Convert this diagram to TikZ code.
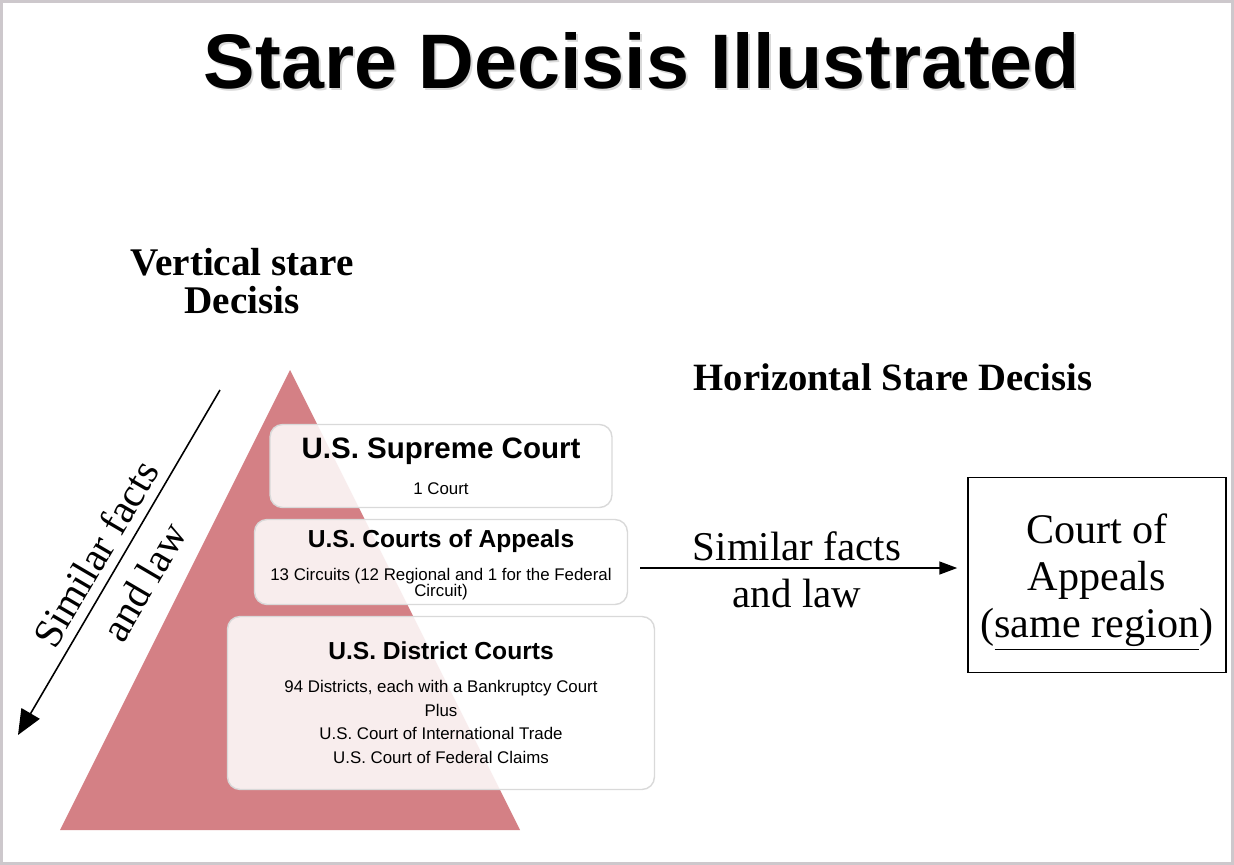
\documentclass[tikz,border=0pt]{standalone}
\usepackage{fontspec}
\setmainfont{Liberation Serif}
\setsansfont{Liberation Sans}
\usepackage{tikz}
\usetikzlibrary{positioning,arrows.meta,calc}
\definecolor{pyramidred}{RGB}{212,128,133}
\definecolor{framegray}{RGB}{205,200,204}

\begin{document}
\begin{tikzpicture}[x=0.02cm, y=-0.02cm,
  courtbox/.style={draw=gray!30, line width=0.8pt, rounded corners=0.25cm, fill=white, fill opacity=0.86},
  courttitle/.style={font=\sffamily\bfseries\fontsize{14}{16}\selectfont},
  courtnote/.style={font=\sffamily\fontsize{9.6}{13.6}\selectfont, align=center},
  factlabel/.style={font=\fontsize{23.3}{27}\selectfont, align=center},
  factarrow/.style={-{Triangle[length=0.36cm, width=0.26cm]}, line width=0.9pt}
]

% Slide frame
\fill[framegray] (0,0) rectangle (1234,865);
\fill[white] (3,3) rectangle (1231,862);
\useasboundingbox (0,0) rectangle (1234,865);

% Title
\node[font=\sffamily\bfseries\fontsize{44}{50}\selectfont, text=black!15] (titleS) at (644,63) {Stare Decisis Illustrated};
\node[font=\sffamily\bfseries\fontsize{44}{50}\selectfont] (title) at (642,61) {Stare Decisis Illustrated};

% Headings
\node[font=\bfseries\fontsize{22.3}{21.5}\selectfont, align=center] (vhead) at (242,281) {Vertical stare\\Decisis};
\node[font=\bfseries\fontsize{22}{26}\selectfont] (hhead) at (893,377) {Horizontal Stare Decisis};

% Pyramid
\coordinate (apex) at (290,370);
\coordinate (baseR) at (520,830);
\coordinate (baseL) at (60,830);
\fill[pyramidred] (apex) -- (baseR) -- (baseL) -- cycle;

% Court boxes
\node[courtbox, minimum width=6.84cm, minimum height=1.66cm] (supreme) at (441,466) {};
\node[courtbox, minimum width=7.46cm, minimum height=1.70cm] (appeals) at (441,562) {};
\node[courtbox, minimum width=8.54cm, minimum height=3.46cm] (district) at (441,703) {};

\node[courttitle, font=\sffamily\bfseries\fontsize{16.8}{19}\selectfont] (supremeT) at (441,451) {U.S. Supreme Court};
\node[courtnote] (supremeN) at (441,489) {1 Court};
\node[courttitle] (appealsT) at (441,541) {U.S. Courts of Appeals};
\node[courtnote, font=\sffamily\fontsize{9.6}{9.4}\selectfont] (appealsN) at (441,584) {13 Circuits (12 Regional and 1 for the Federal\\Circuit)};
\node[courttitle] (districtT) at (441,651) {U.S. District Courts};
\node[courtnote] (districtN) at (441,722) {94 Districts, each with a Bankruptcy Court\\Plus\\U.S. Court of International Trade\\U.S. Court of Federal Claims};

% Vertical arrow
\coordinate (vtop) at (220,390);
\coordinate (vbot) at (18,735);
\draw[-{Triangle[length=0.5cm, width=0.42cm]}, line width=0.9pt] (vtop) --
  node[factlabel, sloped, inner sep=2pt, above=3.4pt, pos=0.51] (vlabelA) {Similar facts}
  node[factlabel, sloped, inner sep=2pt, below=7pt, pos=0.51] (vlabelB) {and law} (vbot);

% Horizontal arrow
\node[draw, line width=0.9pt, minimum width=5.16cm, minimum height=3.9cm] (court) at (1097,575) {};
\node[font=\fontsize{24}{27}\selectfont, align=center] (courtT) at (1097,582) {Court of\\Appeals\\(\underline{same region})};
\coordinate (hstart) at (640,568);
\draw[factarrow, shorten >=0.2cm] (hstart) -- (hstart -| court.west);
\node[factlabel] (hlabel) at (797,570) {Similar facts\\and law};

\end{tikzpicture}
\end{document}
